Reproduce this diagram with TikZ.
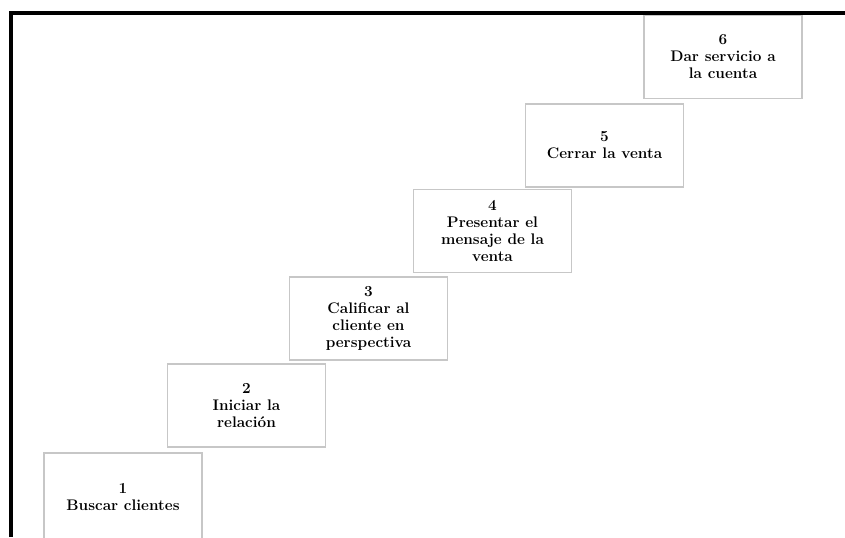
\documentclass[tikz,border=0pt]{standalone}
\usepackage{tikz}

\begin{document}
\begin{tikzpicture}[x=0.75pt,y=-0.75pt,
                stepbox/.style={draw=black!22,line width=1.2pt,inner sep=0pt,
                    minimum width=118.5pt,minimum height=62.5pt,align=center,
                    font=\bfseries\fontsize{11.5}{12.75}\selectfont}
            ]
                \useasboundingbox (0,0) rectangle (845,537);
                % frame on top and left
                \draw [line width=3pt] (10.5,537) -- (10.5,13) -- (845,13);
                % the six steps (the first one runs off the bottom)
                \foreach \i/\x/\y/\h/\t in {1/123/497/66pt/{Buscar clientes},
                                         2/246.5/405.5/62.5pt/{Iniciar la\\relación},
                                         3/368.5/318.5/62.5pt/{Calificar al\\cliente en\\perspectiva},
                                         4/492.5/231/62.5pt/{Presentar el\\mensaje de la\\venta},
                                         5/604.5/145.5/62.5pt/{Cerrar la venta},
                                         6/723/57/62.5pt/{Dar servicio a\\la cuenta}} {
                    \node [stepbox,minimum height=\h] (s\i) at (\x,\y) {\i\\\t};
                }
            \end{tikzpicture}
\end{document}
